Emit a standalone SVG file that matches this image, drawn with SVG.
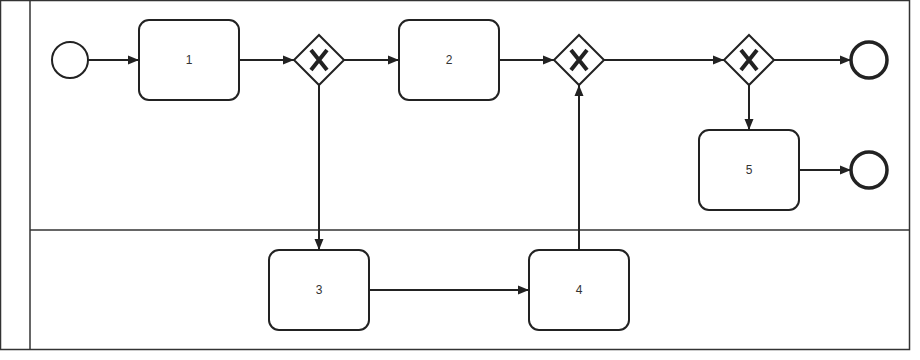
<svg xmlns="http://www.w3.org/2000/svg" width="920" height="360" viewBox="0 0 920 360">
<style>
.pool{fill:none;stroke:#333;stroke-width:1.5}
.task{fill:#fff;stroke:#222;stroke-width:2}
.gw{fill:#fff;stroke:#222;stroke-width:2}
.x{stroke:#222;stroke-width:4;stroke-linecap:butt;fill:none}
.start{fill:#fff;stroke:#222;stroke-width:2}
.end{fill:#fff;stroke:#222;stroke-width:3.5}
.lbl{font-family:"Liberation Sans",Arial,sans-serif;font-size:12px;fill:#333;text-anchor:middle;dominant-baseline:central}
.edge{fill:none;stroke:#222;stroke-width:2;marker-end:url(#arr)}
</style>
<defs>
<marker id="arr" viewBox="0 0 11 10" refX="11" refY="5" markerWidth="11" markerHeight="10" markerUnits="userSpaceOnUse" orient="auto">
<path d="M0,0.5 L11,5 L0,9.5 Z" fill="#222"/>
</marker>
</defs>
<g id="pool">
<rect class="pool" x="0.5" y="0.5" width="909" height="349"/>
<line class="pool" x1="30" y1="0.5" x2="30" y2="349.5"/>
<line class="pool" x1="30" y1="230" x2="909.5" y2="230"/>
</g>
<g id="edges">
<line class="edge" x1="88" y1="60" x2="139" y2="60"/>
<line class="edge" x1="239" y1="60" x2="294" y2="60"/>
<line class="edge" x1="344" y1="60" x2="399" y2="60"/>
<line class="edge" x1="499" y1="60" x2="554" y2="60"/>
<line class="edge" x1="604" y1="60" x2="724" y2="60"/>
<line class="edge" x1="774" y1="60" x2="851" y2="60"/>
<line class="edge" x1="749" y1="85" x2="749" y2="130"/>
<line class="edge" x1="799" y1="170" x2="851" y2="170"/>
<line class="edge" x1="319" y1="85" x2="319" y2="250"/>
<line class="edge" x1="369" y1="290" x2="529" y2="290"/>
<line class="edge" x1="579" y1="250" x2="579" y2="85"/>
</g>
<g id="start"><circle class="start" cx="70" cy="60" r="18"/></g>
<g id="task1"><rect class="task" x="139" y="20" width="100" height="80" rx="10"/><text class="lbl" x="189" y="60">1</text></g>
<g id="gw1"><polygon class="gw" points="319,35 344,60 319,85 294,60"/><path class="x" d="M311,50 L327,70 M327,50 L311,70"/></g>
<g id="task2"><rect class="task" x="399" y="20" width="100" height="80" rx="10"/><text class="lbl" x="449" y="60">2</text></g>
<g id="gw2"><polygon class="gw" points="579,35 604,60 579,85 554,60"/><path class="x" d="M571,50 L587,70 M587,50 L571,70"/></g>
<g id="gw3"><polygon class="gw" points="749,35 774,60 749,85 724,60"/><path class="x" d="M741,50 L757,70 M757,50 L741,70"/></g>
<g id="end1"><circle class="end" cx="869" cy="60" r="18"/></g>
<g id="task5"><rect class="task" x="699" y="130" width="100" height="80" rx="10"/><text class="lbl" x="749" y="170">5</text></g>
<g id="end2"><circle class="end" cx="869" cy="170" r="18"/></g>
<g id="task3"><rect class="task" x="269" y="250" width="100" height="80" rx="10"/><text class="lbl" x="319" y="290">3</text></g>
<g id="task4"><rect class="task" x="529" y="250" width="100" height="80" rx="10"/><text class="lbl" x="579" y="290">4</text></g>
</svg>
